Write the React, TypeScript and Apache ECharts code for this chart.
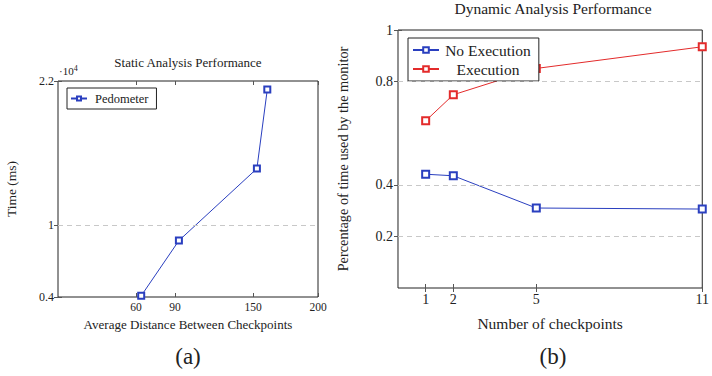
import React, { useEffect, useRef } from "react";
import * as echarts from "echarts";

// Static analysis (left)
const staticDistance = [64, 93, 153, 161];
const staticTime = [0.41, 0.87, 1.47, 2.13]; // x 10^4 ms
const staticXTicks = [60, 90, 150, 200];
const staticYTicks = [0.4, 1, 2.2];

// Dynamic analysis (right)
const checkpoints = [1, 2, 5, 11];
const noExecution = [0.441, 0.435, 0.31, 0.306];
const execution = [0.648, 0.749, 0.851, 0.935];
const dynXTicks = [1, 2, 5, 11];
const dynYTicks = [0.2, 0.4, 0.8, 1];

const FONT = "'Liberation Serif', 'DejaVu Serif', serif";
const BLUE = "#2a3fbf";
const RED = "#e32b2b";
const INK = "#222";

export default function App() {
  const ref = useRef<HTMLDivElement>(null);
  useEffect(() => {
    if (!ref.current) return;
    const chart = echarts.init(ref.current, null, { renderer: "svg" });
    const gridLine = (vals: number[]) => ({
      silent: true,
      symbol: ["none", "none"],
      label: { show: false },
      lineStyle: { type: [5, 4], color: "#c8c8c8", width: 1 },
      data: vals.map((v) => ({ yAxis: v })),
    });
    const tickCommon = { inside: true, length: 4, lineStyle: { color: "#555" } };
    chart.setOption({
      animation: false,
      textStyle: { fontFamily: FONT, color: INK },
      title: [
        {
          text: "Static Analysis Performance",
          left: 188,
          top: 56,
          padding: 0,
          textAlign: "center",
          textStyle: { fontFamily: FONT, fontSize: 13, fontWeight: "normal", color: INK },
        },
        {
          text: "Dynamic Analysis Performance",
          left: 553,
          top: 0,
          padding: 0,
          textAlign: "center",
          textStyle: { fontFamily: FONT, fontSize: 15.5, fontWeight: "normal", color: INK },
        },
      ],
      grid: [
        { left: 58, top: 81, width: 260, height: 216, show: true, borderColor: INK, borderWidth: 1 },
        { left: 398, top: 30, width: 312, height: 258, show: true, borderColor: INK, borderWidth: 1 },
      ],
      legend: [
        {
          data: ["Pedometer"],
          left: 67,
          top: 88,
          orient: "vertical",
          padding: [4, 8, 4, 3],
          itemWidth: 16,
          itemHeight: 5,
          itemGap: 4,
          borderColor: INK,
          borderWidth: 1,
          backgroundColor: "#fff",
          textStyle: { fontFamily: FONT, fontSize: 12.5, color: INK, padding: [0, 0, 0, 3] },
        },
        {
          data: ["No Execution", "Execution"],
          left: 408,
          top: 38,
          orient: "vertical",
          itemGap: 3,
          padding: [4, 8, 4, 4],
          itemWidth: 26,
          itemHeight: 7,
          borderColor: INK,
          borderWidth: 1,
          backgroundColor: "#fff",
          formatter: (n: string) => `{a|${n}}`,
          textStyle: {
            fontFamily: FONT,
            fontSize: 15.5,
            color: INK,
            rich: { a: { fontFamily: FONT, fontSize: 15.5, color: INK, width: 88, align: "center" } },
          },
        },
      ],
      xAxis: [
        {
          type: "value",
          gridIndex: 0,
          min: 0,
          max: 200,
          position: "bottom",
          name: "Average Distance Between Checkpoints",
          nameLocation: "middle",
          nameGap: 21,
          nameTextStyle: { fontFamily: FONT, fontSize: 13, color: INK },
          axisLine: { show: false },
          splitLine: { show: false },
          axisTick: { ...tickCommon, customValues: staticXTicks },
          axisLabel: { customValues: staticXTicks, fontFamily: FONT, fontSize: 11.5, color: INK, margin: 4 },
        },
        {
          type: "value",
          gridIndex: 0,
          min: 0,
          max: 200,
          position: "top",
          axisLine: { show: false },
          splitLine: { show: false },
          axisTick: { ...tickCommon, customValues: staticXTicks },
          axisLabel: { show: false },
        },
        {
          type: "value",
          gridIndex: 1,
          min: 0,
          max: 11,
          position: "bottom",
          name: "Number of checkpoints",
          nameLocation: "middle",
          nameGap: 27,
          nameTextStyle: { fontFamily: FONT, fontSize: 15.5, color: INK },
          axisLine: { show: false },
          splitLine: { show: false },
          axisTick: { ...tickCommon, customValues: dynXTicks },
          axisLabel: { customValues: dynXTicks, fontFamily: FONT, fontSize: 14, color: INK, margin: 4 },
        },
        {
          type: "value",
          gridIndex: 1,
          min: 0,
          max: 11,
          position: "top",
          axisLine: { show: false },
          splitLine: { show: false },
          axisTick: { ...tickCommon, customValues: dynXTicks },
          axisLabel: { show: false },
        },
      ],
      yAxis: [
        {
          type: "value",
          gridIndex: 0,
          min: 0.4,
          max: 2.2,
          position: "left",
          name: "Time (ms)",
          nameLocation: "middle",
          nameGap: 40,
          nameTextStyle: { fontFamily: FONT, fontSize: 13.5, color: INK },
          axisLine: { show: false },
          splitLine: { show: false },
          axisTick: { ...tickCommon, customValues: staticYTicks },
          axisLabel: { customValues: staticYTicks, fontFamily: FONT, fontSize: 12, color: INK, margin: 4 },
        },
        {
          type: "value",
          gridIndex: 0,
          min: 0.4,
          max: 2.2,
          position: "right",
          axisLine: { show: false },
          splitLine: { show: false },
          axisTick: { ...tickCommon, customValues: staticYTicks },
          axisLabel: { show: false },
        },
        {
          type: "value",
          gridIndex: 1,
          min: 0,
          max: 1,
          position: "left",
          name: "Percentage of time used by the monitor",
          nameLocation: "middle",
          nameGap: 48,
          nameTextStyle: { fontFamily: FONT, fontSize: 14.3, color: INK },
          axisLine: { show: false },
          splitLine: { show: false },
          axisTick: { ...tickCommon, customValues: dynYTicks },
          axisLabel: { customValues: dynYTicks, fontFamily: FONT, fontSize: 14, color: INK, margin: 5 },
        },
        {
          type: "value",
          gridIndex: 1,
          min: 0,
          max: 1,
          position: "right",
          axisLine: { show: false },
          splitLine: { show: false },
          axisTick: { ...tickCommon, customValues: dynYTicks },
          axisLabel: { show: false },
        },
      ],
      series: [
        {
          name: "Pedometer",
          type: "line",
          xAxisIndex: 0,
          yAxisIndex: 0,
          data: staticDistance.map((d, i) => [d, staticTime[i]]),
          symbol: "emptyRect",
          symbolSize: 6,
          color: BLUE,
          lineStyle: { color: BLUE, width: 1 },
          itemStyle: { color: BLUE, borderWidth: 1 },
          markLine: gridLine([1]),
          z: 3,
        },
        {
          name: "No Execution",
          type: "line",
          xAxisIndex: 2,
          yAxisIndex: 2,
          data: checkpoints.map((c, i) => [c, noExecution[i]]),
          symbol: "emptyRect",
          symbolSize: 7,
          color: BLUE,
          lineStyle: { color: BLUE, width: 1 },
          itemStyle: { color: BLUE, borderWidth: 1 },
          markLine: gridLine([0.2, 0.4, 0.8]),
          z: 3,
        },
        {
          name: "Execution",
          type: "line",
          xAxisIndex: 2,
          yAxisIndex: 2,
          data: checkpoints.map((c, i) => [c, execution[i]]),
          symbol: "emptyRect",
          symbolSize: 7,
          color: RED,
          lineStyle: { color: RED, width: 1 },
          itemStyle: { color: RED, borderWidth: 1 },
          z: 3,
        },
      ],
      graphic: [
        {
          type: "text",
          left: 59,
          top: 64,
          style: {
            text: "·10{s|4}",
            fontFamily: FONT,
            fontSize: 11,
            fill: INK,
            rich: { s: { fontFamily: FONT, fontSize: 8, verticalAlign: "top", padding: [0, 0, 6, 0] } },
          },
        },
        {
          type: "text",
          x: 188,
          y: 356,
          style: { text: "(a)", fontFamily: FONT, fontSize: 23, fill: INK, align: "center", verticalAlign: "middle" },
        },
        {
          type: "text",
          x: 553,
          y: 356,
          style: { text: "(b)", fontFamily: FONT, fontSize: 23, fill: INK, align: "center", verticalAlign: "middle" },
        },
      ],
    });
    return () => chart.dispose();
  }, []);
  return (
    <div
      ref={ref}
      style={{ position: "fixed", left: 0, top: 0, width: 712, height: 376, background: "#fff" }}
    />
  );
}
